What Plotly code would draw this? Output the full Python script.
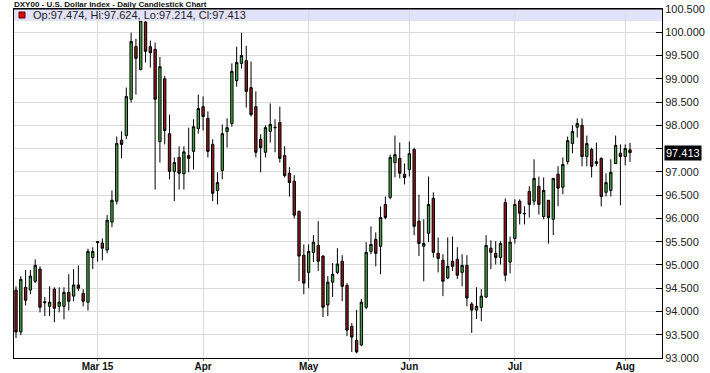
import pandas as pd
import plotly.graph_objects as go

# Trading days (weekdays) shown on the chart
dates = [d.strftime("%Y-%m-%d") for d in pd.bdate_range("2015-02-05", "2015-08-04")]

opens = [94.46, 93.56, 94.52, 94.46, 94.65, 94.91, 94.21, 94.11, 94.48, 94.11,
         94.11, 94.41, 94.33, 94.57, 94.39, 94.20, 95.16, 95.48, 95.47, 95.32,
         95.92, 96.37, 97.68, 97.78, 98.56, 99.69, 99.20, 100.22, 99.69, 99.63,
         97.65, 99.00, 97.82, 97.01, 97.31, 96.96, 97.35, 97.44, 97.93, 98.40,
         98.15, 97.59, 96.60, 97.03, 97.87, 98.04, 98.96, 99.33, 99.39, 98.81,
         98.40, 97.70, 97.42, 97.87, 97.96, 98.06, 97.35, 96.97, 96.80, 96.15,
         95.21, 94.84, 95.27, 95.42, 95.19, 94.14, 94.63, 94.84, 95.08, 94.56,
         93.68, 93.38, 93.28, 94.09, 95.29, 95.55, 95.40, 96.30, 96.45, 97.20,
         97.29, 96.95, 97.05, 97.48, 95.94, 95.40, 95.68, 96.43, 95.25, 95.10,
         94.72, 95.08, 95.12, 94.84, 94.99, 94.16, 94.03, 94.09, 94.31, 95.36,
         95.25, 95.16, 96.34, 95.06, 95.57, 96.37, 96.11, 96.58, 96.37, 96.69,
         96.04, 96.39, 95.98, 96.95, 96.67, 97.22, 97.61, 97.96, 98.00, 97.33,
         97.48, 97.18, 97.29, 96.56, 96.60, 97.18, 97.40, 97.33, 97.474]
highs = [94.54, 94.76, 94.89, 94.89, 95.12, 94.97, 94.31, 94.54, 94.52, 94.52,
         94.52, 94.80, 94.91, 94.99, 94.48, 95.35, 95.38, 95.51, 95.57, 96.07,
         96.60, 97.76, 97.87, 98.81, 99.99, 99.86, 100.36, 100.39, 99.82, 99.78,
         99.47, 99.06, 98.23, 97.31, 97.55, 97.55, 97.95, 98.13, 98.66, 98.62,
         98.30, 97.70, 96.99, 98.02, 98.15, 99.33, 99.69, 99.99, 99.71, 99.37,
         98.73, 97.81, 98.00, 98.47, 98.13, 98.40, 97.55, 97.10, 96.93, 96.17,
         95.44, 95.44, 95.64, 95.94, 95.21, 94.76, 95.04, 95.36, 95.21, 94.61,
         93.75, 94.03, 94.27, 95.49, 95.83, 95.70, 96.26, 96.47, 97.37, 97.78,
         97.63, 97.18, 97.65, 97.52, 96.51, 95.98, 96.90, 96.56, 95.59, 95.23,
         95.59, 95.61, 95.38, 95.23, 95.21, 94.20, 94.52, 94.48, 95.64, 95.53,
         95.51, 95.51, 96.43, 95.61, 96.41, 96.41, 96.26, 96.69, 97.27, 96.90,
         96.88, 96.39, 96.86, 97.12, 97.31, 97.76, 98.00, 98.15, 98.15, 97.78,
         97.52, 97.63, 97.31, 96.97, 97.27, 97.78, 97.59, 97.59, 97.624]
lows = [93.43, 93.49, 94.13, 94.37, 94.61, 93.98, 93.90, 93.90, 93.77, 93.98,
        93.83, 94.02, 94.22, 94.44, 94.11, 94.02, 94.91, 95.07, 95.10, 95.25,
        95.81, 96.30, 97.29, 97.70, 98.49, 98.66, 99.18, 99.35, 99.24, 96.62,
        97.20, 97.59, 96.84, 96.37, 96.62, 96.62, 96.99, 97.05, 97.82, 97.89,
        97.31, 96.37, 96.30, 96.84, 97.52, 97.97, 98.83, 99.22, 98.38, 98.19,
        97.31, 96.99, 97.31, 97.63, 97.42, 97.20, 96.88, 96.47, 96.00, 94.65,
        94.37, 94.50, 95.06, 94.87, 93.88, 93.90, 94.31, 94.80, 94.22, 93.47,
        93.13, 93.10, 93.26, 94.05, 95.23, 94.97, 94.80, 95.98, 96.41, 96.88,
        96.86, 96.73, 96.90, 95.64, 95.19, 94.65, 95.49, 95.16, 94.84, 94.33,
        94.70, 94.87, 94.70, 94.54, 94.11, 93.54, 93.84, 93.79, 94.29, 94.91,
        95.01, 95.01, 94.65, 94.82, 95.46, 95.87, 95.87, 96.02, 96.28, 96.08,
        95.98, 95.46, 95.64, 96.26, 96.52, 97.16, 97.40, 97.74, 97.12, 97.12,
        96.88, 97.12, 96.26, 96.47, 96.47, 97.18, 96.28, 97.14, 97.214]
closes = [93.56, 94.69, 94.24, 94.76, 94.99, 94.09, 94.19, 94.20, 94.07, 94.20,
          94.41, 94.22, 94.57, 94.50, 94.22, 95.29, 95.29, 95.50, 95.36, 95.96,
          96.39, 97.61, 97.59, 98.62, 99.80, 99.44, 100.25, 99.59, 99.56, 98.56,
          99.26, 97.89, 97.01, 97.20, 96.97, 97.43, 97.29, 97.97, 98.36, 98.19,
          97.44, 96.54, 96.77, 97.82, 97.95, 99.16, 99.35, 99.50, 98.73, 98.23,
          97.42, 97.52, 97.95, 98.02, 97.95, 97.29, 96.92, 96.77, 96.07, 95.19,
          94.61, 95.29, 95.49, 95.08, 94.09, 94.63, 94.80, 95.02, 94.54, 93.60,
          93.45, 93.13, 94.20, 95.27, 95.44, 95.25, 96.02, 96.02, 97.31, 97.37,
          96.97, 96.88, 97.39, 95.83, 95.46, 95.46, 96.30, 95.27, 95.14, 94.65,
          94.97, 94.97, 94.78, 94.99, 94.29, 94.03, 94.11, 94.33, 95.42, 95.27,
          95.16, 95.46, 94.78, 95.49, 96.30, 96.11, 96.10, 96.30, 96.86, 96.30,
          96.60, 96.02, 96.86, 96.65, 97.16, 97.67, 97.87, 98.04, 97.33, 97.61,
          97.12, 97.22, 96.47, 96.77, 96.99, 97.57, 97.33, 97.50, 97.413]

tick_dates = ["2015-03-02", "2015-04-01", "2015-05-01", "2015-06-01", "2015-07-01", "2015-08-03"]
tick_labels = ["Mar 15", "Apr", "May", "Jun", "Jul", "Aug"]

y_ticks = [93.0 + 0.5 * k for k in range(16)]
y_labels = ["" if abs(v - 97.5) < 1e-9 else f"{v:.3f}" for v in y_ticks]

last_close = closes[-1]
info_text = f"Op:{opens[-1]:.3f}, Hi:{highs[-1]:.3f}, Lo:{lows[-1]:.3f}, Cl:{closes[-1]:.3f}"
title_text = "DXY00 - U.S. Dollar Index - Daily Candlestick Chart"

GRID = "#dadada"
FONT = "Liberation Sans, Arial, sans-serif"

fig = go.Figure(go.Candlestick(
    x=dates, open=opens, high=highs, low=lows, close=closes,
    increasing=dict(line=dict(color="black", width=1), fillcolor="#45a345"),
    decreasing=dict(line=dict(color="black", width=1), fillcolor="#8e1c1c"),
    whiskerwidth=0,
    showlegend=False,
))

n = len(dates)
fig.update_layout(
    width=710, height=373,
    margin=dict(l=14, r=48, t=9, b=15, autoexpand=False),
    paper_bgcolor="white", plot_bgcolor="white",
    font=dict(family=FONT, size=11, color="#222"),
    boxgap=0.3,
    xaxis=dict(
        type="category", rangeslider=dict(visible=False),
        range=[-0.42, n - 1 + 6.67], automargin=False,
        tickmode="array", tickvals=tick_dates, ticktext=tick_labels,
        showgrid=True, gridcolor=GRID, gridwidth=1,
        showline=True, linecolor="black", linewidth=1, mirror=True,
        ticks="outside", ticklen=2, tickcolor="#888",
        ticklabelstandoff=-3,
        tickfont=dict(family=FONT, size=10, color="#111", weight="bold"),
        fixedrange=True,
    ),
    yaxis=dict(
        side="right", range=[93.0, 100.5], automargin=False,
        tickmode="array", tickvals=y_ticks, ticktext=y_labels,
        showgrid=True, gridcolor=GRID, gridwidth=1,
        showline=True, linecolor="black", linewidth=1, mirror=True,
        ticks="inside", ticklen=6, tickcolor="black",
        tickfont=dict(family=FONT, size=11, color="#222"),
        zeroline=False, fixedrange=True,
    ),
)

band_bottom = 1 - 12 / 349
shapes = [dict(type="rect", xref="paper", yref="paper", x0=0, x1=1, y0=band_bottom, y1=1,
               fillcolor="#e2e2fa", line=dict(width=0), layer="above")]
for d in tick_dates:
    shapes.append(dict(type="line", xref="x", yref="paper", x0=d, x1=d, y0=band_bottom, y1=1,
                       line=dict(color=GRID, width=1), layer="above"))
shapes.append(dict(type="line", xref="paper", yref="paper", x0=0, x1=1, y0=1, y1=1,
                   line=dict(color="black", width=1), layer="above"))
shapes.append(dict(type="rect", xref="paper", yref="paper",
                   x0=5 / 648, x1=11 / 648, y0=1 - 9 / 349, y1=1 - 3 / 349,
                   fillcolor="#dd0000", line=dict(color="#550000", width=1), layer="above"))
fig.update_layout(shapes=shapes)

fig.add_annotation(xref="paper", yref="paper", x=17 / 648, y=1 - 6 / 349,
                   xanchor="left", yanchor="middle", showarrow=False,
                   text=info_text, font=dict(family=FONT, size=11, color="#222"))
fig.add_annotation(xref="paper", yref="paper", x=-1 / 648, y=1 + 9.5 / 349,
                   xanchor="left", yanchor="top", showarrow=False, borderpad=0,
                   text=f"<b>{title_text}</b>", font=dict(family=FONT, size=8, color="#111"))
fig.add_annotation(xref="paper", yref="y", x=1, y=last_close, xshift=2,
                   xanchor="left", yanchor="middle", showarrow=False,
                   text=f"{last_close:.3f}", bgcolor="black", borderpad=1,
                   font=dict(family=FONT, size=11, color="white"))

fig.write_html("out.html")
